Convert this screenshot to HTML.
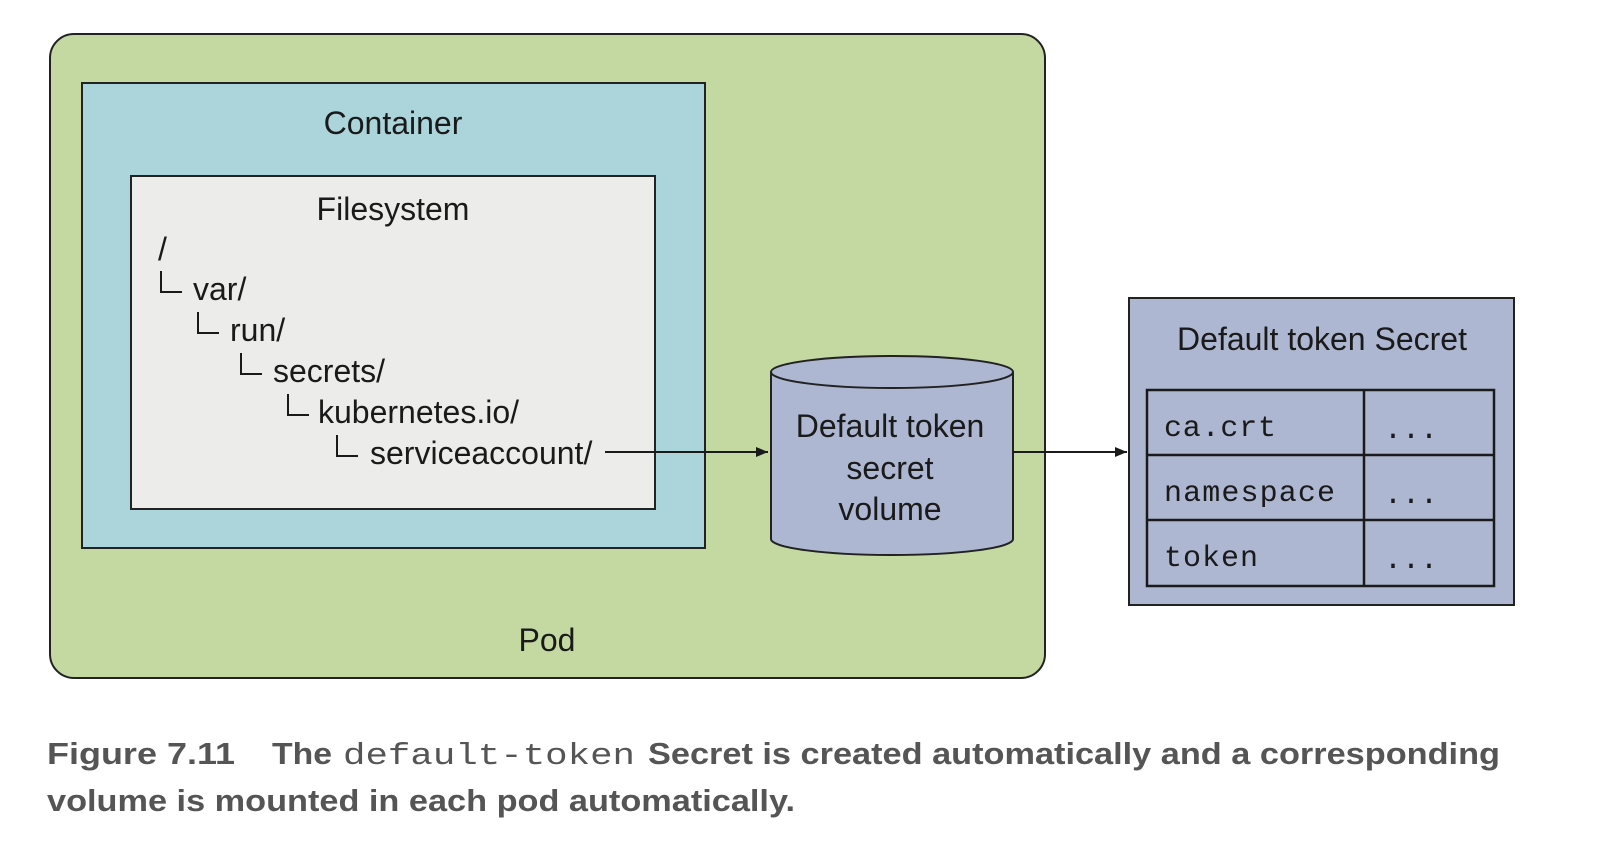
<!DOCTYPE html>
<html><head><meta charset="utf-8"><style>
html,body{margin:0;padding:0;background:#fff;width:1622px;height:844px;overflow:hidden}
svg{display:block}
.s{font-family:"Liberation Sans",sans-serif;fill:#1a1a1a}
.m{font-family:"Liberation Mono",monospace;fill:#1a1a1a}
.c{font-family:"Liberation Sans",sans-serif;font-weight:bold;fill:#555}
.cm{font-family:"Liberation Mono",monospace;fill:#555}
</style></head><body>
<svg width="1622" height="844" viewBox="0 0 1622 844" xmlns="http://www.w3.org/2000/svg">
<defs><marker id="a" markerWidth="12" markerHeight="10" refX="12" refY="5" orient="auto" markerUnits="userSpaceOnUse"><path d="M0,0 L12,5 L0,10 z" fill="#1a1a1a"/></marker></defs>
<rect x="50" y="34" width="995" height="644" rx="24" fill="#c3d9a1" stroke="#222" stroke-width="2"/>
<rect x="82" y="83" width="623" height="465" fill="#abd4db" stroke="#222" stroke-width="2"/>
<rect x="131" y="176" width="524" height="333" fill="#ececea" stroke="#222" stroke-width="2"/>
<text class="s" x="393" y="134" font-size="32" text-anchor="middle">Container</text>
<text class="s" x="393" y="220" font-size="32" text-anchor="middle">Filesystem</text>
<g class="s" font-size="32">
<text x="158" y="260">/</text>
<text x="193" y="300">var/</text>
<text x="230" y="341">run/</text>
<text x="273" y="382">secrets/</text>
<text x="318" y="423">kubernetes.io/</text>
<text x="370" y="464">serviceaccount/</text>
</g>
<g fill="none" stroke="#1a1a1a" stroke-width="2">
<path d="M161,271 V292 H182"/>
<path d="M198,312 V333 H219"/>
<path d="M241,353 V374 H262"/>
<path d="M288,394 V415 H309"/>
<path d="M337,435 V456 H358"/>
</g>
<line x1="605" y1="452" x2="768" y2="452" stroke="#1a1a1a" stroke-width="2" marker-end="url(#a)"/>
<path d="M771,372 L771,539 A121,16 0 0 0 1013,539 L1013,372" fill="#aeb7d1" stroke="#222" stroke-width="2"/>
<ellipse cx="892" cy="372" rx="121" ry="16" fill="#aeb7d1" stroke="#222" stroke-width="2"/>
<g class="s" font-size="32" text-anchor="middle">
<text x="890" y="437">Default token</text>
<text x="890" y="479">secret</text>
<text x="890" y="520">volume</text>
</g>
<line x1="1013" y1="452" x2="1127" y2="452" stroke="#1a1a1a" stroke-width="2" marker-end="url(#a)"/>
<rect x="1129" y="298" width="385" height="307" fill="#aeb7d1" stroke="#222" stroke-width="2"/>
<text class="s" x="1322" y="350" font-size="32" text-anchor="middle">Default token Secret</text>
<rect x="1147" y="390" width="347" height="196" fill="none" stroke="#1a1a1a" stroke-width="2.5"/>
<line x1="1364" y1="390" x2="1364" y2="586" stroke="#1a1a1a" stroke-width="2.5"/>
<line x1="1147" y1="455" x2="1494" y2="455" stroke="#1a1a1a" stroke-width="2.5"/>
<line x1="1147" y1="520" x2="1494" y2="520" stroke="#1a1a1a" stroke-width="2.5"/>
<g class="m" font-size="30">
<text x="1164" y="436" textLength="112">ca.crt</text>
<text x="1164" y="501" textLength="171">namespace</text>
<text x="1164" y="566" textLength="94">token</text>
<text x="1384" y="438">...</text>
<text x="1384" y="503">...</text>
<text x="1384" y="568">...</text>
</g>
<text class="s" x="547" y="651" font-size="32" text-anchor="middle">Pod</text>
<text class="c" x="47" y="764" font-size="31" textLength="188" lengthAdjust="spacingAndGlyphs">Figure 7.11</text>
<text class="c" x="272" y="764" font-size="31" textLength="60" lengthAdjust="spacingAndGlyphs">The</text>
<text class="cm" x="343" y="764" font-size="31" textLength="292" lengthAdjust="spacingAndGlyphs">default-token</text>
<text class="c" x="648" y="764" font-size="31" textLength="852" lengthAdjust="spacingAndGlyphs">Secret is created automatically and a corresponding</text>
<text class="c" x="47" y="811" font-size="31" textLength="748" lengthAdjust="spacingAndGlyphs">volume is mounted in each pod automatically.</text>
</svg>
</body></html>
